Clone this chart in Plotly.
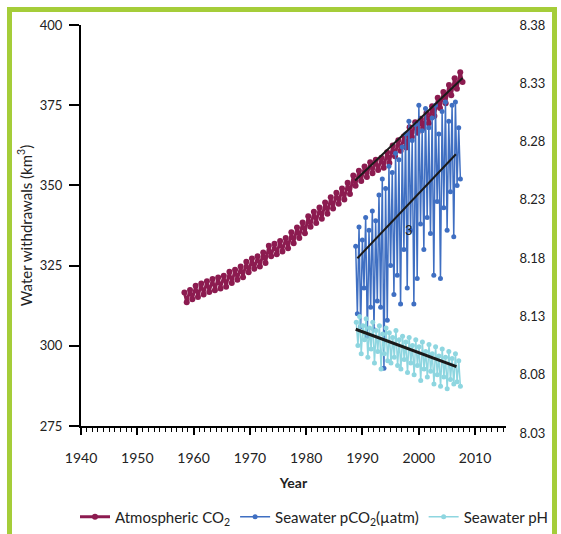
import numpy as np
import plotly.graph_objects as go

# ---------------- data ----------------
co2_years = list(range(1958, 2008))
co2_high = [316.6, 317.4, 318.7, 319.4, 320.1, 320.8, 321.3, 321.8, 323.1, 323.7,
            324.7, 326.2, 327.2, 327.9, 329.1, 331.2, 331.8, 332.7, 333.6, 335.4,
            336.9, 338.4, 340.4, 341.8, 343.1, 344.7, 346.3, 347.7, 349.0, 350.8,
            353.1, 354.6, 355.9, 357.2, 358.0, 358.6, 360.3, 362.4, 364.1, 365.3,
            368.1, 369.7, 370.8, 372.6, 374.7, 377.3, 379.1, 381.3, 383.4, 385.3]
co2_low = [313.6, 314.5, 315.2, 316.0, 316.8, 317.3, 317.9, 318.4, 319.6, 320.6,
           321.4, 322.9, 324.0, 324.7, 325.8, 327.9, 328.5, 329.4, 330.4, 332.0,
           333.6, 335.1, 337.1, 338.3, 339.6, 341.2, 342.8, 344.3, 345.6, 347.3,
           349.9, 351.4, 352.6, 353.8, 354.8, 355.5, 357.0, 359.1, 360.8, 361.8,
           365.1, 366.4, 367.9, 369.4, 371.6, 374.1, 375.6, 378.1, 380.1, 382.2]

pco2_start, pco2_end = 1988.8, 2007.4
pco2_values = [331, 310, 337, 306, 333, 318, 340, 303, 336, 312, 342, 305, 339, 314,
               347, 312, 352, 293, 349, 308, 356, 325, 354, 316, 360, 322, 358, 313,
               362, 330, 366, 318, 370, 336, 364, 313, 369, 321, 375, 338, 367, 330,
               374, 340, 368, 335, 371, 322, 375, 345, 366, 321, 373, 343, 376, 336,
               370, 348, 375, 334, 376, 350, 368, 352]

ph_start, ph_end = 1988.9, 2007.4
ph_values = [8.125, 8.105, 8.130, 8.098, 8.122, 8.110, 8.128, 8.095, 8.120, 8.102,
             8.125, 8.090, 8.118, 8.100, 8.122, 8.085, 8.115, 8.098, 8.120, 8.092,
             8.116, 8.090, 8.112, 8.095, 8.118, 8.088, 8.110, 8.085, 8.113, 8.093,
             8.108, 8.082, 8.112, 8.090, 8.105, 8.080, 8.110, 8.088, 8.104, 8.075,
             8.108, 8.085, 8.100, 8.078, 8.106, 8.083, 8.098, 8.072, 8.104, 8.080,
             8.096, 8.070, 8.102, 8.078, 8.095, 8.068, 8.100, 8.076, 8.094, 8.072,
             8.098, 8.074, 8.092, 8.070]

co2_trend_years = [1988.7, 2007.8]
co2_trend = [351.5, 383.5]
pco2_trend_years = [1989.1, 2006.6]
pco2_trend = [327.3, 359.7]
ph_trend_years = [1988.8, 2006.7]
ph_trend = [8.119, 8.087]

x_ticks = [1940, 1950, 1960, 1970, 1980, 1990, 2000, 2010]
y_ticks = [275, 300, 325, 350, 375, 400]
y2_ticks = [8.03, 8.08, 8.13, 8.18, 8.23, 8.28, 8.33, 8.38]

# ---------------- build series ----------------
co2_x, co2_y = [], []
for yr, hi, lo in zip(co2_years, co2_high, co2_low):
    co2_x += [yr + 0.37, yr + 0.78]
    co2_y += [hi, lo]

pco2_x = np.linspace(pco2_start, pco2_end, len(pco2_values))
ph_x = np.linspace(ph_start, ph_end, len(ph_values))

C_CO2 = "#8C1B50"
C_PCO2 = "#3F6FC2"
C_PH = "#8ED6E0"
FONT = "Lato"

fig = go.Figure()
fig.add_trace(go.Scatter(x=co2_x, y=co2_y, mode="lines+markers", name="Atmospheric CO<sub>2</sub>",
                         line=dict(color=C_CO2, width=3), marker=dict(color=C_CO2, size=6)))
fig.add_trace(go.Scatter(x=pco2_x, y=pco2_values, mode="lines+markers", name="Seawater pCO<sub>2</sub>(µatm)",
                         line=dict(color=C_PCO2, width=1.5), marker=dict(color=C_PCO2, size=5)))
fig.add_trace(go.Scatter(x=ph_x, y=ph_values, mode="lines+markers", name="Seawater pH", yaxis="y2",
                         line=dict(color=C_PH, width=1.5), marker=dict(color=C_PH, size=5)))
fig.add_trace(go.Scatter(x=co2_trend_years, y=co2_trend, mode="lines", showlegend=False,
                         line=dict(color="#1a1a1a", width=2)))
fig.add_trace(go.Scatter(x=pco2_trend_years, y=pco2_trend, mode="lines", showlegend=False,
                         line=dict(color="#1a1a1a", width=2)))
fig.add_trace(go.Scatter(x=ph_trend_years, y=ph_trend, mode="lines", showlegend=False, yaxis="y2",
                         line=dict(color="#1a1a1a", width=3)))

W, H = 561, 534
L, R, T, B = 81, 55, 25, 101      # outer plot box (right-axis scale spans the full height)
X_AXIS_PX = 426                   # pixel row of the bottom (x) axis
pw, ph = W - L - R, H - T - B
y_dom0 = (H - B - X_AXIS_PX) / ph

def px_x(p):
    return (p - L) / pw

def px_y(p):
    return (H - B - p) / ph

fig.add_annotation(x=1998.2, y=336, text="3", showarrow=False, xref="x", yref="y",
                   font=dict(family=FONT, size=13, color="#222"))

fig.add_shape(type="rect", xref="paper", yref="paper",
              x0=px_x(9.5), x1=px_x(554.5), y0=px_y(560), y1=px_y(9.5),
              line=dict(color="#A5CD39", width=5), fillcolor="rgba(0,0,0,0)", layer="below")

fig.update_layout(
    width=W, height=H,
    margin=dict(l=L, r=R, t=T, b=B, pad=0, autoexpand=False),
    paper_bgcolor="white", plot_bgcolor="rgba(0,0,0,0)",
    font=dict(family=FONT, size=13, color="#222"),
    showlegend=True,
    legend=dict(orientation="h", x=px_x(75), xanchor="left", y=px_y(517), yanchor="middle",
                bgcolor="rgba(0,0,0,0)",
                font=dict(family=FONT, size=15, color="#222"), itemwidth=30, tracegroupgap=0),
    xaxis=dict(range=[1940, 2015.5], tickvals=x_ticks, showgrid=False, zeroline=False, automargin=False,
               anchor="y", showline=True, linecolor="black", linewidth=2,
               ticks="outside", ticklen=7, tickwidth=2, tickcolor="black", ticklabelstandoff=11,
               minor=dict(dtick=1, tick0=1940, ticks="outside", ticklen=4, tickwidth=1, tickcolor="black"),
               tickfont=dict(size=14), title=dict(text="<b>Year</b>", font=dict(size=14), standoff=13)),
    yaxis=dict(range=[275, 400], domain=[y_dom0, 1], tickvals=y_ticks, showgrid=False, zeroline=False,
               automargin=False, showline=True, linecolor="black", linewidth=2,
               ticks="outside", ticklen=10, tickwidth=2, tickcolor="black", ticklabelstandoff=4,
               tickfont=dict(size=13),
               title=dict(text="Water withdrawals (km<sup>3</sup>)", font=dict(size=15), standoff=4)),
    yaxis2=dict(range=[8.03, 8.38], domain=[0, 1], anchor="free", position=1, side="right",
                tickvals=y2_ticks, ticktext=[f"{v:.2f}" for v in y2_ticks],
                showgrid=False, zeroline=False, showline=False, automargin=False,
                ticks="outside", ticklen=10, tickcolor="rgba(0,0,0,0)", tickfont=dict(size=13)),
)

fig.write_html("out.html", config={"displayModeBar": False},
               post_script="document.body.style.margin='0';document.body.style.overflow='hidden';")
